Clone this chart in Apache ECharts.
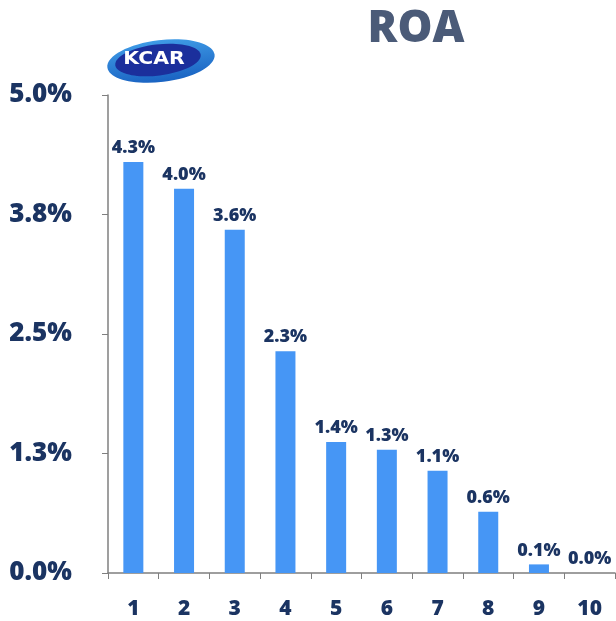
<!DOCTYPE html>
<html>
<head>
<meta charset="utf-8">
<script src="https://cdn.jsdelivr.net/npm/echarts@6/dist/echarts.min.js"></script>
<style>
  html, body { margin: 0; padding: 0; background: #fff; }
  #chart { width: 616px; height: 621px; }
</style>
</head>
<body>
<div id="chart"></div>
<script>
const categories = ['1', '2', '3', '4', '5', '6', '7', '8', '9', '10']
const roa = [4.3, 4.02, 3.59, 2.32, 1.37, 1.29, 1.07, 0.64, 0.09, 0.0]
const yTickLabels = ['0.0%', '1.3%', '2.5%', '3.8%', '5.0%']

const navy = '#1b3462'
const barBlue = '#4696f5'
const font = '"Open Sans", "Noto Sans", sans-serif'

const chart = echarts.init(document.getElementById('chart'))

chart.setOption({
  animation: false,
  title: {
    text: 'ROA',
    left: 411,
    top: 2,
    textAlign: 'center',
    textStyle: { fontFamily: font, fontSize: 44, fontWeight: 800, color: '#4b5b78' },
  },
  // KCAR logo, rough
  graphic: [
    {
      type: 'ellipse',
      shape: { cx: 161, cy: 61, rx: 54, ry: 21 },
      rotation: 0.12,
      originX: 161,
      originY: 61,
      style: {
        fill: new echarts.graphic.LinearGradient(0, 0, 0, 1, [
          { offset: 0, color: '#3f9be6' },
          { offset: 1, color: '#1a63c2' },
        ]),
      },
    },
    {
      type: 'ellipse',
      shape: { cx: 158, cy: 60, rx: 43, ry: 15.5 },
      rotation: 0.12,
      originX: 158,
      originY: 60,
      style: { fill: '#1b2f9c' },
    },
    {
      type: 'text',
      x: 154,
      y: 60,
      scaleX: 1.2,
      style: {
        text: 'KCAR',
        fill: '#fff',
        font: 'bold 17px "DejaVu Sans", sans-serif',
        align: 'center',
        verticalAlign: 'middle',
      },
    },
  ],
  grid: {
    left: 108,
    right: 1,
    top: 95,
    bottom: 48,
    containLabel: false,
  },
  xAxis: {
    type: 'category',
    data: categories,
    axisLine: { lineStyle: { color: '#7f7f7f', width: 1.5 } },
    axisTick: { show: true, length: 6, lineStyle: { color: '#7f7f7f' } },
    axisLabel: {
      margin: 26,
      fontFamily: font,
      fontSize: 21,
      fontWeight: 800,
      color: navy,
    },
  },
  yAxis: {
    type: 'value',
    min: 0,
    max: 5,
    interval: 1.25,
    splitLine: { show: false },
    axisLine: { show: true, lineStyle: { color: '#7f7f7f', width: 1.5 } },
    axisTick: { show: true, length: 6, lineStyle: { color: '#7f7f7f' } },
    axisLabel: {
      margin: 36,
      fontFamily: font,
      fontSize: 26,
      fontWeight: 800,
      color: navy,
      formatter: v => yTickLabels[Math.round(v / 1.25)],
    },
  },
  series: [
    {
      type: 'bar',
      data: roa,
      barWidth: 20,
      itemStyle: { color: barBlue },
      label: {
        show: true,
        position: 'top',
        distance: 5,
        fontFamily: font,
        fontSize: 18,
        fontWeight: 800,
        color: navy,
        formatter: p => p.value.toFixed(1) + '%',
      },
    },
  ],
})
</script>
</body>
</html>
